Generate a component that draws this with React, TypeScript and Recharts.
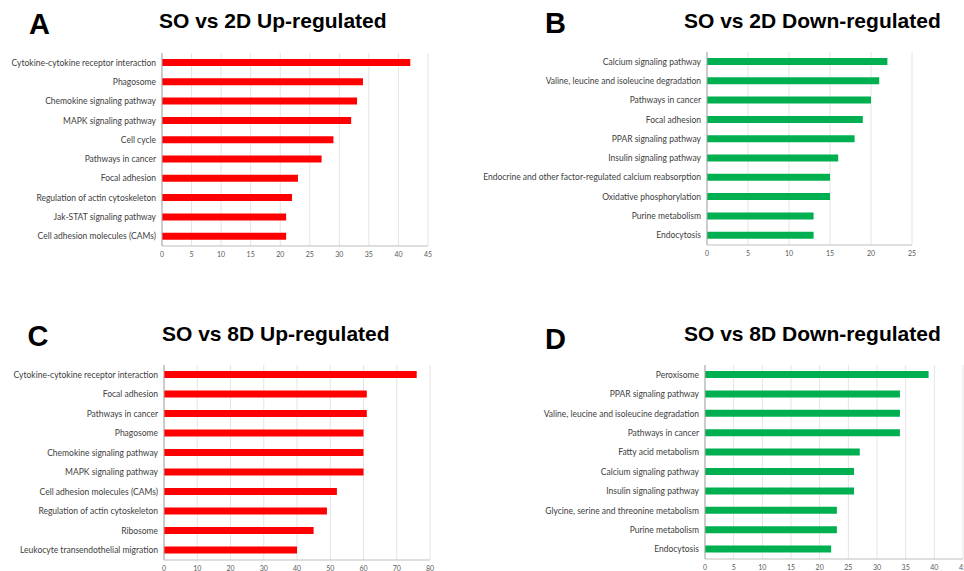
import React from "react";
import { BarChart, Bar, XAxis, YAxis, CartesianGrid } from "recharts";

const catsA = [
  "Cytokine-cytokine receptor interaction",
  "Phagosome",
  "Chemokine signaling pathway",
  "MAPK signaling pathway",
  "Cell cycle",
  "Pathways in cancer",
  "Focal adhesion",
  "Regulation of actin cytoskeleton",
  "Jak-STAT signaling pathway",
  "Cell adhesion molecules (CAMs)",
];
const valsA = [42, 34, 33, 32, 29, 27, 23, 22, 21, 21];
const ticksA = [0, 5, 10, 15, 20, 25, 30, 35, 40, 45];

const catsB = [
  "Calcium signaling pathway",
  "Valine, leucine and isoleucine degradation",
  "Pathways in cancer",
  "Focal adhesion",
  "PPAR signaling pathway",
  "Insulin signaling pathway",
  "Endocrine and other factor-regulated calcium reabsorption",
  "Oxidative phosphorylation",
  "Purine metabolism",
  "Endocytosis",
];
const valsB = [22, 21, 20, 19, 18, 16, 15, 15, 13, 13];
const ticksB = [0, 5, 10, 15, 20, 25];

const catsC = [
  "Cytokine-cytokine receptor interaction",
  "Focal adhesion",
  "Pathways in cancer",
  "Phagosome",
  "Chemokine signaling pathway",
  "MAPK signaling pathway",
  "Cell adhesion molecules (CAMs)",
  "Regulation of actin cytoskeleton",
  "Ribosome",
  "Leukocyte transendothelial migration",
];
const valsC = [76, 61, 61, 60, 60, 60, 52, 49, 45, 40];
const ticksC = [0, 10, 20, 30, 40, 50, 60, 70, 80];

const catsD = [
  "Peroxisome",
  "PPAR signaling pathway",
  "Valine, leucine and isoleucine degradation",
  "Pathways in cancer",
  "Fatty acid metabolism",
  "Calcium signaling pathway",
  "Insulin signaling pathway",
  "Glycine, serine and threonine metabolism",
  "Purine metabolism",
  "Endocytosis",
];
const valsD = [39, 34, 34, 34, 27, 26, 26, 23, 23, 22];
const ticksD = [0, 5, 10, 15, 20, 25, 30, 35, 40, 45];

const titles = [
  "SO vs 2D Up-regulated",
  "SO vs 2D Down-regulated",
  "SO vs 8D Up-regulated",
  "SO vs 8D Down-regulated",
];
const letters = ["A", "B", "C", "D"];

const RED = "#ff0000";
const GREEN = "#00b050";
const LABEL_FONT = "Lato, 'Open Sans', sans-serif";

const YTick = (props: any) => {
  const { x, y, payload } = props;
  return (
    <text
      x={x}
      y={y}
      dy={3}
      textAnchor="end"
      fontSize={8.5}
      fontFamily={LABEL_FONT}
      fill="#404040"
    >
      {payload.value}
    </text>
  );
};

type PanelProps = {
  cats: string[];
  vals: number[];
  ticks: number[];
  color: string;
  left: number;
  top: number;
  width: number;
  height: number;
  yWidth: number;
  right: number;
};

const Panel = ({ cats, vals, ticks, color, left, top, width, height, yWidth, right }: PanelProps) => {
  const data = cats.map((c, i) => ({ name: c, value: vals[i] }));
  return (
    <div style={{ position: "absolute", left, top }}>
      <BarChart
        width={width}
        height={height}
        data={data}
        layout="vertical"
        margin={{ top: 8, right, bottom: 0, left: 0 }}
      >
        <CartesianGrid horizontal={false} stroke="#e4e4e4" />
        <XAxis
          type="number"
          domain={[ticks[0], ticks[ticks.length - 1]]}
          ticks={ticks}
          interval={0}
          height={20}
          tickLine={false}
          tickSize={4}
          tickMargin={2}
          axisLine={{ stroke: "#bfbfbf" }}
          tick={{ fontSize: 7, fill: "#595959", fontFamily: LABEL_FONT }}
        />
        <YAxis
          type="category"
          dataKey="name"
          width={yWidth}
          interval={0}
          tickLine={false}
          tickSize={5}
          tickMargin={1}
          axisLine={{ stroke: "#a6a6a6" }}
          tick={<YTick />}
        />
        <Bar dataKey="value" fill={color} barSize={7} isAnimationActive={false} />
      </BarChart>
    </div>
  );
};

export default function App() {
  return (
    <div
      style={{
        position: "absolute",
        left: 0,
        top: 0,
        width: 964,
        height: 571,
        overflow: "hidden",
        background: "#ffffff",
      }}
    >
      <svg
        width={964}
        height={571}
        style={{ position: "absolute", left: 0, top: 0 }}
        fontFamily="'Liberation Sans', Arial, sans-serif"
        fontWeight="bold"
      >
        <text x={29} y={34} fontSize={29} fill="#000">{letters[0]}</text>
        <text x={545} y={33} fontSize={29} fill="#000">{letters[1]}</text>
        <text x={27.5} y={346} fontSize={29} fill="#000">{letters[2]}</text>
        <text x={545} y={349} fontSize={29} fill="#000">{letters[3]}</text>
        <text x={159} y={28} fontSize={21} fill="#000">{titles[0]}</text>
        <text x={684} y={28} fontSize={21} fill="#000">{titles[1]}</text>
        <text x={162} y={341} fontSize={21} fill="#000">{titles[2]}</text>
        <text x={684} y={341} fontSize={21} fill="#000">{titles[3]}</text>
      </svg>
      <Panel cats={catsA} vals={valsA} ticks={ticksA} color={RED} left={0} top={45} width={440} height={221} yWidth={162} right={12} />
      <Panel cats={catsB} vals={valsB} ticks={ticksB} color={GREEN} left={480} top={44} width={450} height={221} yWidth={227} right={18} />
      <Panel cats={catsC} vals={valsC} ticks={ticksC} color={RED} left={0} top={357} width={440} height={223} yWidth={164} right={10} />
      <Panel cats={catsD} vals={valsD} ticks={ticksD} color={GREEN} left={480} top={357} width={484} height={222} yWidth={225} right={1} />
    </div>
  );
}
